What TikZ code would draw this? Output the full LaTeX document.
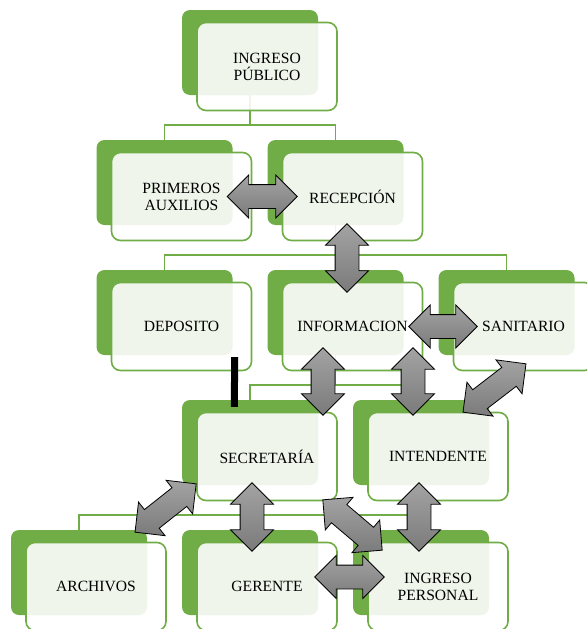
\documentclass[tikz,border=0pt]{standalone}
\usepackage{fontspec}
\setmainfont{Liberation Serif}
\usetikzlibrary{shapes.arrows, calc, positioning}

\definecolor{cardgreen}{HTML}{70AD47}

% block arrow from one point to another
\newcommand\blockarrow[2]{%
  \path let \p1=($(#2)-(#1)$), \n1={veclen(\x1,\y1)}, \n2={atan2(\y1,\x1)} in
    node[link, minimum height=\n1, rotate=\n2] at ($(#1)!0.5!(#2)$) {};}

\begin{document}
\begin{tikzpicture}[
            x=1pt, y=-1pt,
            cardback/.style={rectangle, minimum width=136pt, minimum height=85pt, inner sep=0pt, rounded corners=8pt, fill=cardgreen},
            card/.style={rectangle, minimum width=140pt, minimum height=88pt, inner sep=0pt, rounded corners=9pt, draw=cardgreen, line width=1.6pt, fill=white, fill opacity=0.89, text opacity=1, align=center, font=\fontsize{15.6}{17}\selectfont},
            tree/.style={draw=cardgreen, line width=1.6pt},
            link/.style={double arrow, draw=black, line width=0.8pt, top color=black!36, bottom color=black!52, minimum width=42pt, double arrow head extend=9.5pt, inner xsep=0pt, inner ysep=11.5pt}
            ]

            \clip (0,0) rectangle (587,629);

            % back plates
            \node (bpub) [cardback] at (250,52.5) {};
            \node (bprim) [cardback] at (164.5,182.5) {};
            \node (brecep) [cardback] at (335.5,182.5) {};
            \node (bdep) [cardback] at (164.5,312.5) {};
            \node (binfo) [cardback] at (335.5,312.5) {};
            \node (bsan) [cardback] at (506.5,312.5) {};
            \node (bsec) [cardback] at (250,442.5) {};
            \node (bint) [cardback] at (421,442.5) {};
            \node (barch) [cardback] at (79,572.5) {};
            \node (bger) [cardback] at (250,572.5) {};
            \node (bingper) [cardback] at (421,572.5) {};

            % tree lines
            \draw [tree] (bpub.south) -- ++(0,30) -| (bprim.north);
            \draw [tree] (bpub.south) -- ++(0,30) -| (brecep.north);
            \draw [tree] (brecep.south) -- ++(0,30) -| (bdep.north);
            \draw [tree] (brecep.south) -- ++(0,30) -| (binfo.north);
            \draw [tree] (brecep.south) -- ++(0,30) -| (bsan.north);
            \draw [tree] (binfo.south) -- ++(0,30) -| (bsec.north);
            \draw [tree] (binfo.south) -- ++(0,30) -| (bint.north);
            \draw [tree] (bsec.south) -- ++(0,30) -| (barch.north);
            \draw [tree] (bsec.south) -- ++(0,30) -| (bger.north);
            \draw [tree] (bsec.south) -- ++(0,30) -| (bingper.north);

            % cards
            \node (pub) [card] at ($(bpub)+(17,14)$) {INGRESO\\PÚBLICO};
            \node (prim) [card] at ($(bprim)+(17,14)$) {PRIMEROS\\AUXILIOS};
            \node (recep) [card] at ($(brecep)+(17,14)$) {RECEPCIÓN};
            \node (dep) [card] at ($(bdep)+(17,14)$) {DEPOSITO};
            \node (info) [card] at ($(binfo)+(17,14)$) {INFORMACION};
            \node (san) [card] at ($(bsan)+(17,14)$) {SANITARIO};
            \node (sec) [card] at ($(bsec)+(17,14)$) {SECRETARÍA};
            \node (int) [card] at ($(bint)+(17,14)$) {INTENDENTE};
            \node (arch) [card] at ($(barch)+(17,14)$) {ARCHIVOS};
            \node (ger) [card] at ($(bger)+(17,14)$) {GERENTE};
            \node (ingper) [card] at ($(bingper)+(17,14)$) {INGRESO\\PERSONAL};

            % stray bar
            \coordinate (bartop) at ($(bdep.south east)+(2,2)$);
            \coordinate (barbot) at ($(bsec.north west)+(52.5,7)$);
            \draw [line width=7pt] (bartop) -- (barbot);

            % arrows
            \blockarrow{$(prim.east)+(-25,0)$}{$(recep.west)+(15.5,0)$}
            \blockarrow{$(recep.south)+(-5.5,-17.5)$}{$(info.north)+(-5.5,10.5)$}
            \blockarrow{$(info.east)+(-14.5,0)$}{$(san.west)+(24.5,0)$}
            \blockarrow{$(info.south)+(-29.5,-23.5)$}{$(sec.north)+(56,3.5)$}
            \blockarrow{$(info.south)+(60.5,-23.5)$}{$(int.north)+(-25,3.5)$}
            \blockarrow{$(int.north)+(25,0.5)$}{$(san.south)+(2.5,-7.5)$}
            \blockarrow{$(sec.south west)+(0,-17.5)$}{$(arch.north)+(39,-9.5)$}
            \blockarrow{$(sec.south)+(-15,-18.5)$}{$(ger.north)+(-15,9.5)$}
            \blockarrow{$(sec.south east)+(-15,-1.5)$}{$(ingper.north west)+(15,8.5)$}
            \blockarrow{$(int.south)+(-19,-18.5)$}{$(ingper.north)+(-19,9.5)$}
            \blockarrow{$(ger.east)+(-23,-9.5)$}{$(ingper.west)+(17,-9.5)$}
        \end{tikzpicture}
\end{document}
